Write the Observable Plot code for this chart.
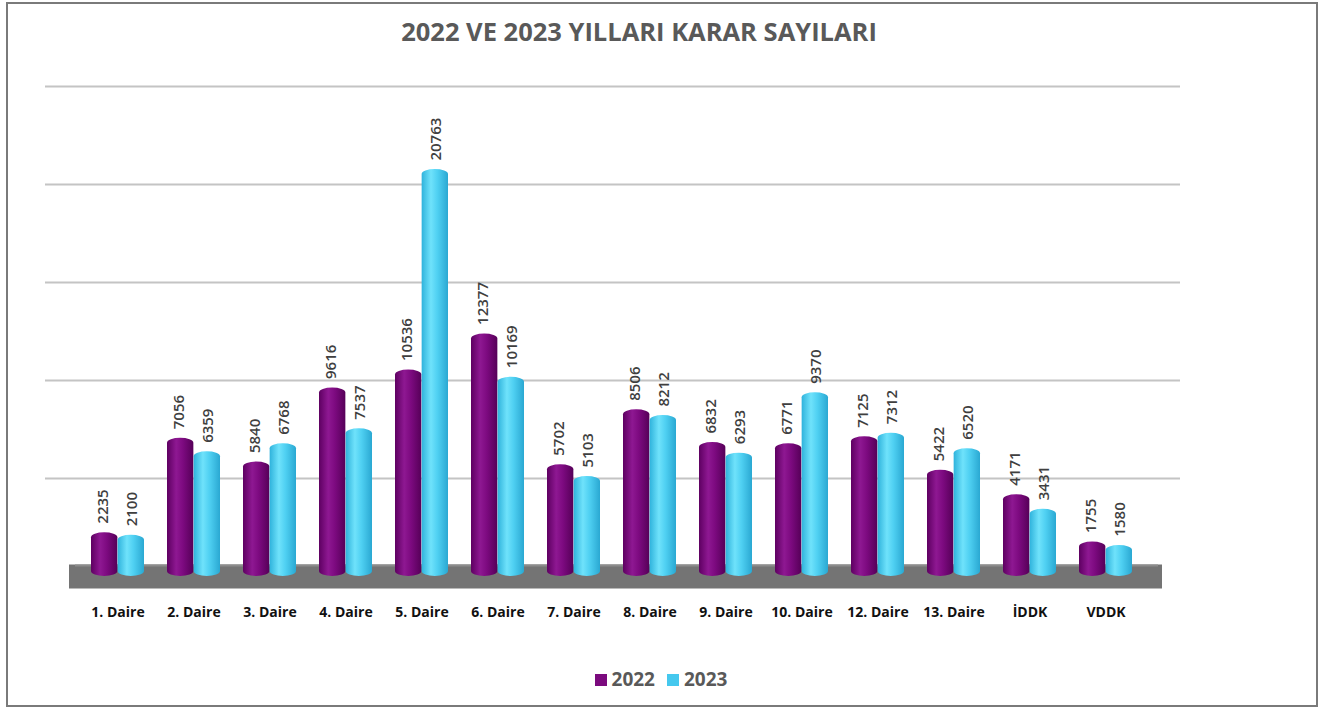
<!DOCTYPE html>
<html>
<head>
<meta charset="utf-8">
<script src="https://cdn.jsdelivr.net/npm/d3@7"></script>
<script src="https://cdn.jsdelivr.net/npm/@observablehq/plot@0.6"></script>
<style>
  body { margin: 0; background: #fff; font-family: "Open Sans", sans-serif; }
  #frame { position: absolute; left: 6px; top: 2px; width: 1308px; height: 701px; border: 2px solid #7a7a7a; background: #fff; }
  #title { position: absolute; left: 0; top: 14px; width: 1278px; text-align: center; font-weight: 700; font-size: 25.5px; color: #595959; }
  #chart { position: absolute; left: 0; top: 55px; }
  #legend { position: absolute; left: 0; top: 666px; width: 1322px; display: flex; justify-content: center; gap: 12px; font-weight: 700; font-size: 19px; color: #595959; }
  .sw { display: inline-block; width: 12px; height: 12px; margin-right: 5px; vertical-align: 0px; }
</style>
</head>
<body>
<div id="frame"></div>
<div id="title">2022 VE 2023 YILLARI KARAR SAYILARI</div>
<div id="chart"></div>
<div id="legend"></div>
<script>
const categories = ["1. Daire","2. Daire","3. Daire","4. Daire","5. Daire","6. Daire","7. Daire","8. Daire","9. Daire","10. Daire","12. Daire","13. Daire","İDDK","VDDK"];
const values2022 = [2235, 7056, 5840, 9616, 10536, 12377, 5702, 8506, 6832, 6771, 7125, 5422, 4171, 1755];
const values2023 = [2100, 6359, 6768, 7537, 20763, 10169, 5103, 8212, 6293, 9370, 7312, 6520, 3431, 1580];
const years = ["2022", "2023"];
const colors = {"2022": "#7b0a7e", "2023": "#45c8ee"};
const gridTicks = [5000, 10000, 15000, 20000, 25000];

const data = categories.map((c, i) => ({category: c, v2022: values2022[i], v2023: values2023[i]}));

const xRange = [79, 1145];
const padIn = 0.3, padOut = 0.15;
const step = (xRange[1] - xRange[0]) / (categories.length - padIn + 2 * padOut);
const bw = step * (1 - padIn);
const half = bw / 2;

const plot = Plot.plot({
  width: 1326,
  height: 567,
  marginLeft: 45,
  marginRight: 146,
  marginTop: 31,
  marginBottom: 46,
  style: {fontFamily: "'Open Sans', sans-serif", background: "transparent"},
  x: {domain: categories, range: xRange, paddingInner: padIn, paddingOuter: padOut, label: null},
  y: {domain: [0, 25000], axis: null},
  marks: [
    Plot.ruleY(gridTicks, {stroke: "#c4c4c4", strokeWidth: 2}),
    Plot.ruleY([0], {stroke: "#747474", strokeWidth: 24, insetLeft: 24, insetRight: 18}),
    Plot.ruleY([0], {stroke: "#8c8c8c", strokeWidth: 2, dy: -11, insetLeft: 30, insetRight: 22}),
    Plot.barY(data, {x: "category", y: "v2022", fill: "url(#grad2022)", insetRight: half, rx: half / 2, ry: 5}),
    Plot.barY(data, {x: "category", y: "v2023", fill: "url(#grad2023)", insetLeft: half, rx: half / 2, ry: 5}),
    Plot.text(data, {x: "category", y: "v2022", text: d => String(d.v2022), rotate: -90, textAnchor: "start", dx: -half / 2 - 1, dy: -9, fill: "#3f3f3f", fontSize: 15, fontWeight: 600}),
    Plot.text(data, {x: "category", y: "v2023", text: d => String(d.v2023), rotate: -90, textAnchor: "start", dx: half / 2 + 1, dy: -9, fill: "#3f3f3f", fontSize: 15, fontWeight: 600}),
    Plot.axisX({tickSize: 0, tickPadding: 31, fontSize: 14, fontWeight: 700, fill: "#111", label: null})
  ]
});

const svgNS = "http://www.w3.org/2000/svg";
const defs = document.createElementNS(svgNS, "defs");
function grad(id, stops) {
  const g = document.createElementNS(svgNS, "linearGradient");
  g.setAttribute("id", id);
  g.setAttribute("x1", "0"); g.setAttribute("y1", "0");
  g.setAttribute("x2", "1"); g.setAttribute("y2", "0");
  stops.forEach(([o, c]) => {
    const s = document.createElementNS(svgNS, "stop");
    s.setAttribute("offset", o); s.setAttribute("stop-color", c);
    g.appendChild(s);
  });
  defs.appendChild(g);
}
grad("grad2022", [["0", "#5e0061"], ["0.35", "#8e1892"], ["0.6", "#7d0a80"], ["1", "#560058"]]);
grad("grad2023", [["0", "#2fb3dc"], ["0.35", "#6fe2fb"], ["0.6", "#4fd0f2"], ["1", "#2aa8d2"]]);
plot.insertBefore(defs, plot.firstChild);

document.getElementById("chart").appendChild(plot);

const legend = document.getElementById("legend");
years.forEach(y => {
  const item = document.createElement("span");
  item.innerHTML = `<span class="sw" style="background:${colors[y]}"></span>${y}`;
  legend.appendChild(item);
});
</script>
</body>
</html>
